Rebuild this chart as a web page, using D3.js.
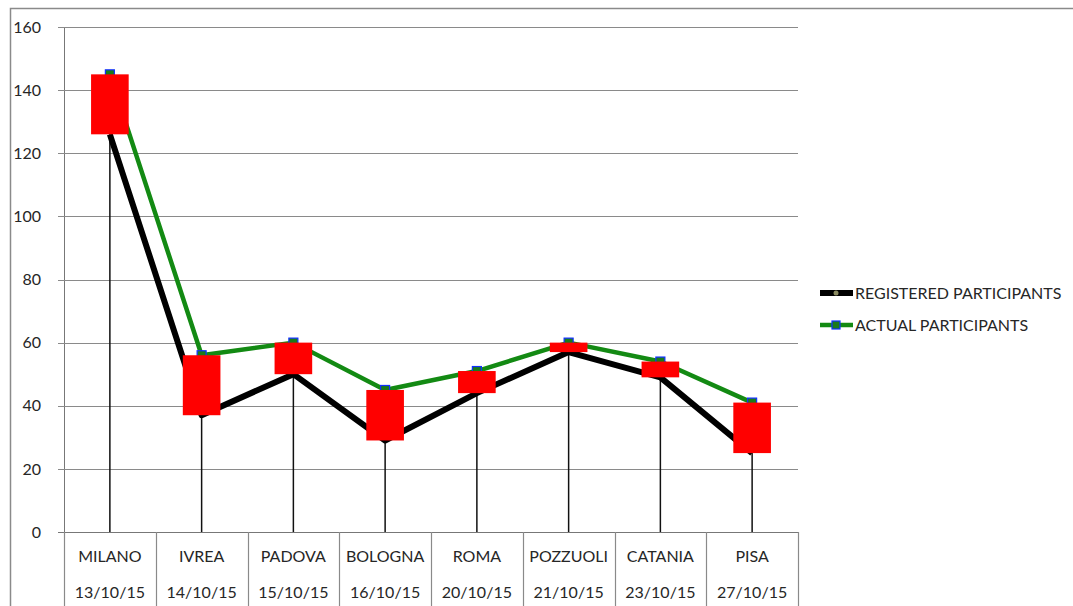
<!DOCTYPE html>
<html>
<head>
<meta charset="utf-8">
<script src="https://cdn.jsdelivr.net/npm/d3@7"></script>
<style>
  body { margin: 0; background: #fff; }
  svg text { font-family: "Lato", "Open Sans", sans-serif; fill: #262626; }
</style>
</head>
<body>
<div id="viz"></div>
<script>
// data
var cities = ["MILANO", "IVREA", "PADOVA", "BOLOGNA", "ROMA", "POZZUOLI", "CATANIA", "PISA"];
var dates = ["13/10/15", "14/10/15", "15/10/15", "16/10/15", "20/10/15", "21/10/15", "23/10/15", "27/10/15"];
var registered = [126, 37, 50, 29, 44, 57, 49, 25];
var actual = [145, 56, 60, 45, 51, 60, 54, 41];
var yTicks = [0, 20, 40, 60, 80, 100, 120, 140, 160];
var seriesNames = ["REGISTERED PARTICIPANTS", "ACTUAL PARTICIPANTS"];

var W = 1073, H = 606;
var svg = d3.select("#viz").append("svg")
    .attr("width", W)
    .attr("height", H);

// outer chart frame
svg.append("path")
    .attr("d", "M10.5," + H + "V8.5H" + W)
    .attr("fill", "none")
    .attr("stroke", "#8a8a8a")
    .attr("stroke-width", 1.5);

var x = d3.scaleBand()
    .domain(cities)
    .range([64, 798])
    .padding(0);

var y = d3.scaleLinear()
    .domain([0, 160])
    .range([532, 27]);

// gridlines + y axis
var yAxis = svg.append("g")
    .attr("transform", "translate(64,0)")
    .call(d3.axisLeft(y).tickValues(yTicks).tickSize(6).tickPadding(17));
yAxis.select(".domain").attr("stroke", "#777");
yAxis.selectAll(".tick line").remove();
yAxis.selectAll(".tick text").style("font-size", "16px");

svg.append("g").selectAll("line")
    .data(yTicks)
    .enter().append("line")
    .attr("x1", 58)
    .attr("x2", 798)
    .attr("y1", function(d) { return Math.round(y(d)) + 0.5; })
    .attr("y2", function(d) { return Math.round(y(d)) + 0.5; })
    .attr("stroke", function(d) { return d === 0 ? "#777" : "#8a8a8a"; })
    .attr("stroke-width", 1.2);

// category separators below the axis
var bounds = cities.map(function(c) { return x(c); }).concat([x.range()[1]]);
svg.append("g").selectAll("line")
    .data(bounds)
    .enter().append("line")
    .attr("x1", function(d) { return Math.round(d) + 0.5; })
    .attr("x2", function(d) { return Math.round(d) + 0.5; })
    .attr("y1", y(0))
    .attr("y2", H)
    .attr("stroke", "#8a8a8a")
    .attr("stroke-width", 1.2);

// category labels (two levels)
var labels = svg.append("g");
labels.selectAll(".city")
    .data(cities)
    .enter().append("text")
    .attr("x", function(d) { return x(d) + x.bandwidth() / 2; })
    .attr("y", 562)
    .attr("text-anchor", "middle")
    .style("font-size", "16px")
    .text(function(d) { return d; });
labels.selectAll(".date")
    .data(dates)
    .enter().append("text")
    .attr("x", function(d, i) { return x(cities[i]) + x.bandwidth() / 2; })
    .attr("y", 598)
    .attr("text-anchor", "middle")
    .style("font-size", "16px")
    .text(function(d) { return d; });

var cx = function(i) { return x(cities[i]) + x.bandwidth() / 2; };

// drop lines
svg.append("g").selectAll("line")
    .data(cities)
    .enter().append("line")
    .attr("x1", function(d, i) { return cx(i); })
    .attr("x2", function(d, i) { return cx(i); })
    .attr("y1", y(0))
    .attr("y2", function(d, i) { return y(Math.max(registered[i], actual[i])); })
    .attr("stroke", "#111")
    .attr("stroke-width", 1.5);

var line = d3.line()
    .x(function(d, i) { return cx(i); })
    .y(function(d) { return y(d); });

svg.append("path")
    .datum(registered)
    .attr("d", line)
    .attr("fill", "none")
    .attr("stroke", "#000")
    .attr("stroke-width", 6)
    .attr("stroke-linejoin", "round");

svg.append("path")
    .datum(actual)
    .attr("d", line)
    .attr("fill", "none")
    .attr("stroke", "#138a13")
    .attr("stroke-width", 4.5)
    .attr("stroke-linejoin", "round");

// markers for actual
svg.append("g").selectAll("rect")
    .data(actual)
    .enter().append("rect")
    .attr("x", function(d, i) { return cx(i) - 4.5; })
    .attr("y", function(d) { return y(d) - 4.5; })
    .attr("width", 9)
    .attr("height", 9)
    .attr("fill", "#1a7a1a")
    .attr("stroke", "#1030ff")
    .attr("stroke-width", 1.2);

// up bars (registered -> actual)
var barW = x.bandwidth() * 0.41;
svg.append("g").selectAll("rect")
    .data(cities)
    .enter().append("rect")
    .attr("x", function(d, i) { return cx(i) - barW / 2; })
    .attr("y", function(d, i) { return y(Math.max(registered[i], actual[i])); })
    .attr("width", barW)
    .attr("height", function(d, i) { return Math.abs(y(registered[i]) - y(actual[i])); })
    .attr("fill", "#ff0000");

// legend
var legend = svg.append("g");
var legColors = ["#000", "#138a13"];
seriesNames.forEach(function(name, i) {
    var ly = 293 + i * 32;
    legend.append("line")
        .attr("x1", 820).attr("x2", 853)
        .attr("y1", ly).attr("y2", ly)
        .attr("stroke", legColors[i])
        .attr("stroke-width", i === 0 ? 6 : 4.5);
    if (i === 0) {
        legend.append("circle")
            .attr("cx", 836).attr("cy", ly).attr("r", 2.5)
            .attr("fill", "#8a8a60");
    } else {
        legend.append("rect")
            .attr("x", 832).attr("y", ly - 4)
            .attr("width", 8).attr("height", 8)
            .attr("fill", "#1a7a1a")
            .attr("stroke", "#1030ff")
            .attr("stroke-width", 1.2);
    }
    legend.append("text")
        .attr("x", 855)
        .attr("y", ly + 6)
        .style("font-size", "16px")
        .text(name);
});
</script>
</body>
</html>
